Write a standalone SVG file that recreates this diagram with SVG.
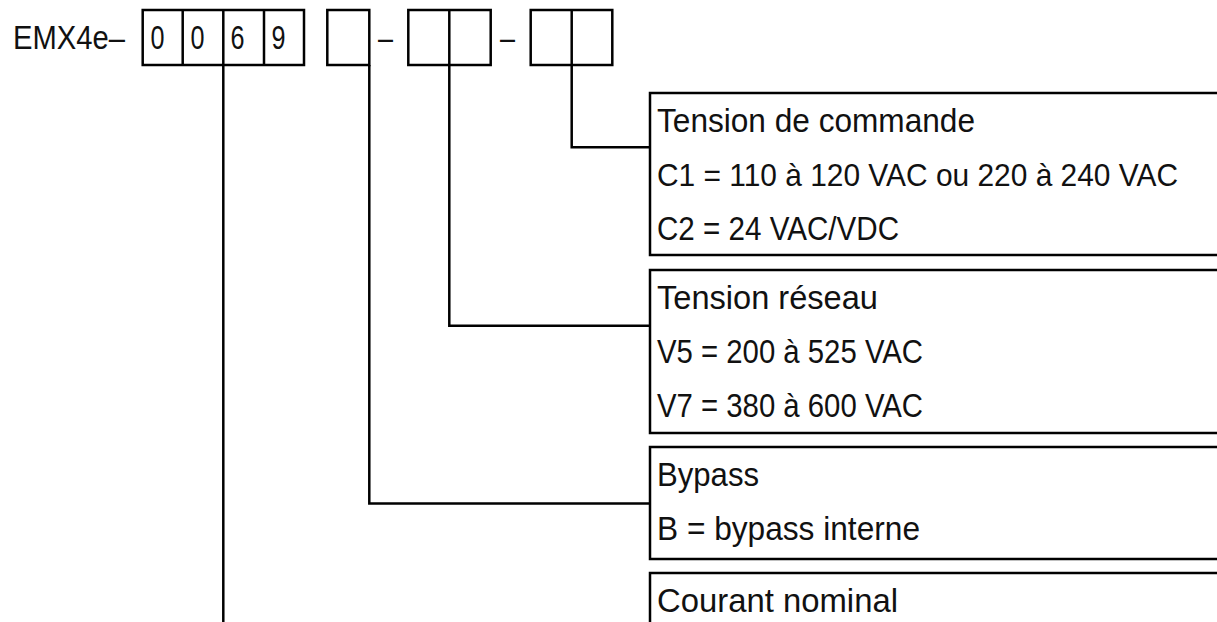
<svg xmlns="http://www.w3.org/2000/svg" width="1217" height="622" viewBox="0 0 1217 622">
<style>
text{font-family:"Liberation Sans",Arial,sans-serif;font-size:33px;fill:#111}
.ln{fill:none;stroke:#000;stroke-width:2.5}
</style>
<rect width="1217" height="622" fill="#fff"/>
<g id="code">
<text x="13" y="49" textLength="112" lengthAdjust="spacingAndGlyphs">EMX4e–</text>
<rect class="ln" x="142.7" y="10" width="161.3" height="55"/>
<path class="ln" d="M182.7 10V65M223.3 10V65M264 10V65"/>
<text x="150.5" y="49" textLength="14" lengthAdjust="spacingAndGlyphs">0</text>
<text x="190.5" y="49" textLength="14" lengthAdjust="spacingAndGlyphs">0</text>
<text x="230.5" y="49" textLength="14" lengthAdjust="spacingAndGlyphs">6</text>
<text x="271.5" y="49" textLength="14" lengthAdjust="spacingAndGlyphs">9</text>
<rect class="ln" x="327.3" y="10" width="42" height="55"/>
<text x="378" y="49" textLength="15" lengthAdjust="spacingAndGlyphs">–</text>
<rect class="ln" x="408.3" y="10" width="82.4" height="55"/>
<path class="ln" d="M449.3 10V65"/>
<text x="500" y="49" textLength="15" lengthAdjust="spacingAndGlyphs">–</text>
<rect class="ln" x="530.7" y="10" width="81.6" height="55"/>
<path class="ln" d="M571.7 10V65"/>
</g>
<g id="connectors">
<path class="ln" d="M223.3 65V622"/>
<path class="ln" d="M369.3 65V503.5H650"/>
<path class="ln" d="M449.3 65V325.7H650"/>
<path class="ln" d="M571.7 65V147.3H650"/>
</g>
<g id="tension-commande">
<path class="ln" d="M1220 93H650V255H1220"/>
<text x="657" y="132" textLength="318" lengthAdjust="spacingAndGlyphs">Tension de commande</text>
<text x="657" y="186" style="font-size:31.5px" textLength="521" lengthAdjust="spacingAndGlyphs">C1 = 110 à 120 VAC ou 220 à 240 VAC</text>
<text x="657" y="240" textLength="242" lengthAdjust="spacingAndGlyphs">C2 = 24 VAC/VDC</text>
</g>
<g id="tension-reseau">
<path class="ln" d="M1220 270H650V433H1220"/>
<text x="657" y="309" textLength="221" lengthAdjust="spacingAndGlyphs">Tension réseau</text>
<text x="657" y="363" textLength="266" lengthAdjust="spacingAndGlyphs">V5 = 200 à 525 VAC</text>
<text x="657" y="417" textLength="266" lengthAdjust="spacingAndGlyphs">V7 = 380 à 600 VAC</text>
</g>
<g id="bypass">
<path class="ln" d="M1220 447H650V559H1220"/>
<text x="657" y="486" textLength="102" lengthAdjust="spacingAndGlyphs">Bypass</text>
<text x="657" y="540" textLength="263" lengthAdjust="spacingAndGlyphs">B = bypass interne</text>
</g>
<g id="courant-nominal">
<path class="ln" d="M1220 573H650V625"/>
<text x="657" y="612" textLength="241" lengthAdjust="spacingAndGlyphs">Courant nominal</text>
</g>
</svg>
